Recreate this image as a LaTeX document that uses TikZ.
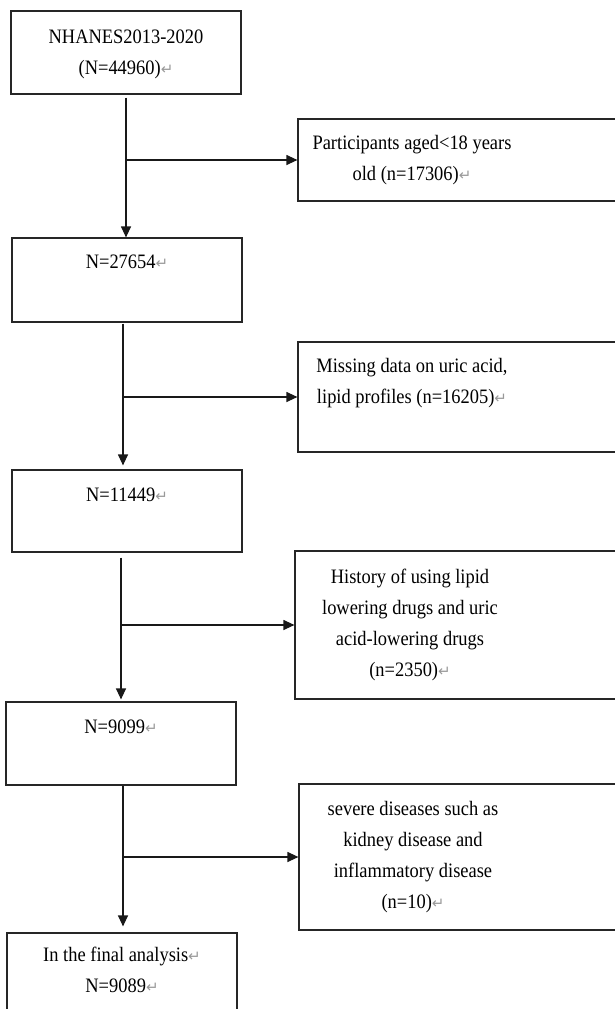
\documentclass[tikz,border=0pt]{standalone}
\usepackage{fontspec}
\setmainfont{Liberation Serif}[FakeStretch=0.9]
\newfontfamily\markfont{DejaVu Sans}
\usetikzlibrary{arrows.meta}
\newcommand{\retmark}{{\markfont\fontsize{15}{15}\selectfont\textcolor{black!40}{↵}}}
\tikzstyle{main_box} = [
    rectangle,
    draw=black!85,
    line width=1.2pt,
    minimum width=230pt,
    inner sep=0pt
]
\tikzstyle{side_box} = [
    rectangle,
    draw=black!85,
    line width=1.2pt,
    minimum width=342pt,
    inner sep=0pt
]
\tikzstyle{box_text} = [
    font=\fontsize{20.5}{31}\selectfont,
    align=center,
    inner sep=0pt,
    anchor=base % base of the last line
]
\tikzstyle{flow_arrow} = [
    -{Triangle[length=11pt,width=10pt]},
    line width=1.2pt,
    draw=black!90
]

\begin{document}
\begin{tikzpicture}[x=1pt, y=-1pt]
\useasboundingbox (0,0) rectangle (615,1009);
\clip (0,0) rectangle (615,1009);
% main column
\node [main_box, minimum height=83pt] (start) at (126,52.5) {};
\node [main_box, minimum height=84pt] (adults) at (127,280) {};
\node [main_box, minimum height=82pt] (lipids) at (127,511) {};
\node [main_box, minimum height=83pt] (nodrugs) at (121,743.5) {};
\node [main_box, minimum height=90pt] (final) at (122,978) {};
% excluded
\node [side_box, minimum height=82pt] (ex_age) at (469,160) {};
\node [side_box, minimum height=110pt] (ex_missing) at (469,397) {};
\node [side_box, minimum height=148pt] (ex_drugs) at (466,625) {};
\node [side_box, minimum height=146pt] (ex_disease) at (470,857) {};
% texts
\node [box_text] (t_start) at (126,74) {NHANES2013-2020\\(N=44960)\retmark};
\node [box_text] (t_age) at (412,180) {Participants aged<18 years\\old (n=17306)\retmark};
\node [box_text] (t_adults) at (127,268) {N=27654\retmark};
\node [box_text] (t_missing) at (412,403) {Missing data on uric acid,\\lipid profiles (n=16205)\retmark};
\node [box_text] (t_lipids) at (127,501) {N=11449\retmark};
\node [box_text] (t_drugs) at (410,676) {History of using lipid\\lowering drugs and uric\\acid-lowering drugs\\(n=2350)\retmark};
\node [box_text] (t_nodrugs) at (121,733) {N=9099\retmark};
\node [box_text] (t_disease) at (413,908) {severe diseases such as\\kidney disease and\\inflammatory disease\\(n=10)\retmark};
\node [box_text] (t_final) at (122,992) {In the final analysis\retmark\\N=9089\retmark};
% arrows
\coordinate (v1) at (126,0);
\coordinate (v2) at (123,0);
\coordinate (v3) at (121,0);
\coordinate (v4) at (123,0);
\draw [flow_arrow, shorten <=3pt] (v1 |- start.south) -- (v1 |- adults.north);
\draw [flow_arrow] (v1 |- ex_age.west) -- (ex_age.west);
\draw [flow_arrow, shorten <=1pt, shorten >=4pt] (v2 |- adults.south) -- (v2 |- lipids.north);
\draw [flow_arrow] (v2 |- ex_missing.west) -- (ex_missing.west);
\draw [flow_arrow, shorten <=5pt, shorten >=2pt] (v3 |- lipids.south) -- (v3 |- nodrugs.north);
\draw [flow_arrow] (v3 |- ex_drugs.west) -- (ex_drugs.west);
\draw [flow_arrow, shorten >=6pt] (v4 |- nodrugs.south) -- (v4 |- final.north);
\draw [flow_arrow] (v4 |- ex_disease.west) -- (ex_disease.west);
\end{tikzpicture}
\end{document}
